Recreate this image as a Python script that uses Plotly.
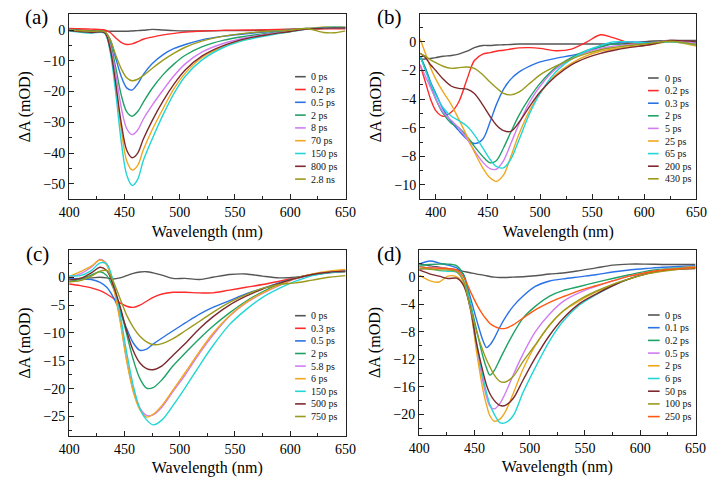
import plotly.graph_objects as go

# ---------------- Panel (a) ----------------
wl_a = [400, 420, 432, 437, 442, 447, 452, 457, 462, 467, 475, 485, 495, 505, 520, 540, 560, 580, 600, 615, 630, 640, 650]
labels_a = ["0 ps", "0.2 ps", "0.5 ps", "2 ps", "8 ps", "70 ps", "150 ps", "800 ps", "2.8 ns"]
a_0ps = [0.3, -0.2, -0.3, -0.4, -0.4, -0.4, -0.4, -0.3, -0.2, -0.1, 0.2, 0.0, -0.2, -0.3, -0.3, -0.2, -0.2, 0.0, 0.3, 0.5, 0.5, 0.6, 0.6]
a_02ps = [0.5, 0.3, 0.0, -0.8, -2.5, -4.0, -4.7, -4.5, -3.8, -3.0, -2.3, -1.6, -1.1, -0.7, -0.3, -0.1, 0.0, 0.1, 0.2, 0.3, 0.4, 0.4, 0.4]
a_05ps = [0.2, -0.5, -0.6, -3.0, -9.0, -15.0, -18.8, -19.5, -17.5, -14.5, -11.0, -8.0, -6.0, -4.7, -3.2, -2.0, -1.2, -0.6, 0.0, 0.5, 0.7, 0.8, 0.8]
a_2ps = [0.2, -0.5, -0.7, -4.0, -12.0, -21.0, -26.5, -28.0, -26.5, -23.5, -19.0, -14.5, -11.0, -8.2, -5.5, -3.3, -2.0, -1.0, -0.2, 0.4, 0.6, 0.8, 0.8]
a_8ps = [0.0, -0.7, -0.8, -5.0, -14.0, -25.0, -32.0, -34.0, -32.5, -29.0, -24.5, -19.5, -14.8, -11.0, -7.2, -4.3, -2.5, -1.3, -0.4, 0.3, 0.6, 0.8, 0.8]
a_70ps = [-0.2, -0.8, -0.9, -6.0, -18.0, -32.0, -42.5, -45.5, -44.0, -39.0, -32.5, -25.5, -19.0, -14.0, -9.0, -5.3, -3.0, -1.6, -0.5, 0.4, 1.0, 1.1, 0.9]
a_150ps = [-0.3, -1.0, -1.0, -7.0, -20.0, -36.0, -47.0, -50.5, -48.5, -42.5, -35.5, -27.5, -20.5, -15.0, -9.8, -5.6, -3.2, -1.8, -0.6, 0.3, 0.8, 1.0, 0.8]
a_800ps = [-0.2, -0.8, -0.9, -6.0, -17.0, -30.0, -39.0, -41.5, -40.0, -35.5, -29.5, -23.0, -17.5, -13.0, -8.5, -5.0, -2.8, -1.5, -0.5, 0.3, 0.6, 0.7, 0.7]
a_28ns = [0.0, -0.4, -0.5, -3.0, -8.0, -12.5, -15.5, -16.5, -16.0, -14.8, -12.5, -9.8, -7.5, -5.6, -3.6, -2.0, -1.0, -0.4, 0.0, 0.5, -0.8, -0.9, -0.3]
series_a = [a_0ps, a_02ps, a_05ps, a_2ps, a_8ps, a_70ps, a_150ps, a_800ps, a_28ns]

# ---------------- Panel (b) ----------------
wl_b = [385, 390, 395, 400, 407, 415, 422, 430, 437, 445, 452, 458, 465, 472, 480, 490, 500, 515, 530, 545, 558, 570, 585, 605, 625, 650]
labels_b = ["0 ps", "0.2 ps", "0.3 ps", "2 ps", "5 ps", "25 ps", "65 ps", "200 ps", "430 ps"]
b_0ps = [-1.2, -1.2, -1.15, -1.1, -1.0, -0.95, -0.85, -0.65, -0.4, -0.25, -0.25, -0.22, -0.2, -0.18, -0.15, -0.15, -0.15, -0.15, -0.15, -0.15, -0.15, -0.15, -0.1, 0.05, 0.1, 0.1]
b_02ps = [-1.6, -2.8, -4.0, -4.8, -5.2, -4.9, -4.2, -2.6, -1.3, -0.85, -0.75, -0.65, -0.58, -0.5, -0.42, -0.4, -0.45, -0.62, -0.5, 0.0, 0.5, 0.3, -0.05, -0.1, 0.0, -0.2]
b_03ps = [-1.0, -1.8, -2.8, -3.6, -4.7, -5.6, -6.2, -6.8, -7.1, -6.8, -5.6, -4.4, -3.3, -2.6, -2.1, -1.7, -1.4, -1.15, -0.95, -0.7, -0.35, -0.1, 0.0, -0.05, 0.05, -0.1]
b_2ps = [-1.0, -1.9, -3.0, -4.0, -5.0, -5.7, -6.0, -6.6, -7.3, -8.0, -8.45, -8.3, -7.4, -6.3, -5.1, -3.9, -2.9, -1.8, -1.1, -0.6, -0.35, -0.15, -0.2, -0.1, 0.05, -0.2]
b_5ps = [-1.6, -2.4, -3.2, -4.0, -4.9, -5.5, -6.0, -6.8, -7.6, -8.4, -8.85, -8.9, -8.3, -7.1, -5.7, -4.2, -3.1, -1.9, -1.2, -0.7, -0.45, -0.3, -0.2, -0.1, 0.1, -0.1]
b_25ps = [0.2, -0.8, -1.8, -2.6, -3.5, -4.4, -5.4, -6.6, -7.7, -8.8, -9.5, -9.75, -9.3, -8.0, -6.4, -4.8, -3.6, -2.3, -1.5, -0.95, -0.65, -0.5, -0.35, -0.2, 0.0, -0.3]
b_65ps = [-1.0, -2.0, -2.9, -3.7, -4.6, -5.2, -5.5, -5.9, -6.5, -7.4, -8.2, -8.7, -8.8, -8.2, -6.8, -5.0, -3.6, -2.1, -1.2, -0.6, -0.25, 0.0, 0.0, -0.1, 0.0, -0.2]
b_200ps = [-0.8, -1.1, -1.6, -2.0, -2.6, -3.1, -3.25, -3.3, -3.6, -4.4, -5.2, -5.8, -6.2, -6.25, -5.6, -4.5, -3.5, -2.4, -1.6, -1.1, -0.8, -0.6, -0.4, -0.2, 0.1, 0.0]
b_430ps = [-0.8, -1.0, -1.25, -1.45, -1.7, -1.85, -1.8, -1.75, -1.85, -2.3, -2.8, -3.2, -3.6, -3.7, -3.5, -2.9, -2.3, -1.7, -1.2, -0.8, -0.55, -0.4, -0.25, -0.1, 0.05, -0.2]
series_b = [b_0ps, b_02ps, b_03ps, b_2ps, b_5ps, b_25ps, b_65ps, b_200ps, b_430ps]

# ---------------- Panel (c) ----------------
wl_c = [400, 410, 420, 428, 434, 440, 446, 452, 458, 464, 470, 476, 484, 494, 505, 518, 530, 545, 560, 575, 590, 605, 620, 635, 650]
labels_c = ["0 ps", "0.3 ps", "0.5 ps", "2 ps", "5.8 ps", "6 ps", "150 ps", "500 ps", "750 ps"]
c_0ps = [-0.3, -0.2, -0.1, 0.0, -0.1, -0.3, -0.1, 0.3, 0.7, 0.95, 1.0, 0.8, 0.4, -0.2, -0.2, -0.4, 0.0, 0.5, 0.6, 0.2, -0.1, 0.0, 0.4, 0.8, 1.0]
c_03ps = [-1.2, -1.5, -1.9, -2.4, -3.0, -3.8, -4.6, -5.2, -5.4, -5.0, -4.3, -3.6, -3.0, -2.7, -2.7, -2.8, -2.8, -2.3, -1.8, -1.3, -0.7, -0.1, 0.5, 0.9, 1.2]
c_05ps = [-0.3, -0.3, -0.4, -0.9, -1.8, -3.6, -6.2, -9.2, -11.8, -13.1, -12.9, -12.0, -10.9, -9.6, -8.2, -6.6, -5.4, -4.2, -3.0, -2.0, -1.0, -0.2, 0.5, 0.9, 1.2]
c_2ps = [-0.8, -0.3, 0.4, 1.0, 0.3, -2.0, -5.5, -10.2, -14.8, -18.2, -19.9, -19.8, -18.4, -15.9, -13.6, -11.0, -8.8, -6.4, -4.3, -2.6, -1.2, -0.1, 0.5, 0.9, 1.1]
c_58ps = [0.0, 0.6, 1.8, 3.2, 2.4, -1.5, -7.5, -14.8, -20.3, -23.5, -24.8, -24.7, -23.3, -20.5, -17.5, -13.6, -10.4, -7.0, -4.6, -2.9, -1.5, -0.3, 0.5, 1.0, 1.2]
c_6ps = [0.1, 1.0, 2.0, 3.1, 2.2, -1.8, -7.8, -15.0, -20.6, -23.8, -25.1, -24.6, -23.0, -20.2, -17.1, -13.3, -10.1, -6.9, -4.5, -2.8, -1.4, -0.2, 0.6, 1.1, 1.4]
c_150ps = [0.3, 0.3, 1.2, 2.6, 2.4, -0.8, -6.5, -13.5, -19.5, -23.6, -25.6, -26.5, -25.6, -23.0, -19.8, -15.8, -12.3, -8.5, -5.8, -3.6, -2.0, -0.7, 0.3, 0.8, 1.1]
c_500ps = [-0.5, -0.2, 0.8, 1.8, 1.2, -1.5, -5.2, -9.6, -13.2, -15.4, -16.4, -16.6, -15.9, -14.0, -11.9, -9.2, -7.1, -5.0, -3.4, -2.1, -1.1, -0.2, 0.5, 0.9, 1.1]
c_750ps = [-0.8, -0.6, 0.2, 1.1, 1.2, -0.8, -3.8, -6.8, -9.0, -10.6, -11.6, -12.1, -11.9, -11.0, -9.6, -7.9, -6.3, -4.5, -3.1, -2.0, -1.3, -1.0, -0.5, 0.0, 0.3]
series_c = [c_0ps, c_03ps, c_05ps, c_2ps, c_58ps, c_6ps, c_150ps, c_500ps, c_750ps]

# ---------------- Panel (d) ----------------
wl_d = [400, 410, 418, 426, 434, 440, 446, 452, 458, 461, 464, 468, 473, 478, 485, 494, 505, 518, 530, 545, 560, 575, 590, 605, 620, 635, 650]
labels_d = ["0 ps", "0.1 ps", "0.2 ps", "0.5 ps", "2 ps", "6 ps", "50 ps", "100 ps", "250 ps"]
d_0ps = [1.9, 1.6, 1.4, 1.2, 1.0, 0.8, 0.6, 0.4, 0.25, 0.15, 0.05, -0.05, -0.1, -0.1, -0.05, 0.0, 0.15, 0.4, 0.55, 0.9, 1.3, 1.7, 1.85, 1.85, 1.8, 1.8, 1.8]
d_01ps = [1.85, 2.3, 2.0, 1.7, 1.3, 0.4, -2.8, -6.3, -9.4, -10.3, -9.9, -8.9, -7.3, -5.9, -4.3, -2.8, -1.4, -0.6, -0.3, 0.0, 0.3, 0.7, 1.0, 1.2, 1.4, 1.5, 1.6]
d_02ps = [1.7, 1.8, 1.85, 1.85, 1.6, 0.3, -3.6, -7.8, -11.8, -13.3, -14.3, -13.6, -12.0, -10.4, -8.3, -6.0, -4.3, -2.8, -2.0, -1.4, -0.8, -0.25, 0.3, 0.8, 1.1, 1.3, 1.4]
d_05ps = [1.0, 1.4, 1.3, 1.2, 0.8, -0.6, -4.5, -10.3, -15.5, -17.5, -18.8, -19.2, -18.4, -16.9, -14.3, -11.2, -8.0, -5.4, -3.6, -2.3, -1.4, -0.6, 0.1, 0.6, 1.0, 1.2, 1.3]
d_2ps = [0.25, -0.6, -0.75, 0.1, 0.0, -1.0, -4.2, -11.0, -16.7, -18.7, -20.2, -21.0, -20.7, -19.6, -17.0, -13.4, -10.0, -7.0, -5.0, -3.5, -2.2, -1.2, -0.3, 0.5, 1.0, 1.3, 1.5]
d_6ps = [1.55, 1.2, 0.9, 0.8, 0.7, -0.5, -3.6, -9.6, -14.8, -16.9, -18.6, -20.0, -21.2, -21.2, -20.2, -16.8, -13.2, -9.3, -6.5, -4.1, -2.6, -1.3, -0.3, 0.5, 1.0, 1.3, 1.4]
d_50ps = [1.0, 0.4, 0.1, -0.25, -0.2, -1.2, -4.3, -9.8, -14.0, -15.8, -17.0, -18.0, -18.7, -18.7, -17.7, -15.0, -11.8, -8.5, -6.1, -3.9, -2.5, -1.3, -0.3, 0.4, 0.9, 1.1, 1.2]
d_100ps = [1.2, 1.1, 1.0, 1.0, 0.7, -0.6, -4.4, -8.0, -10.9, -12.1, -13.1, -14.3, -15.2, -15.3, -14.5, -12.3, -9.9, -7.0, -5.0, -3.3, -2.1, -1.1, -0.3, 0.4, 0.8, 1.1, 1.3]
d_250ps = [1.45, 1.3, 1.25, 1.2, 1.0, 0.0, -2.0, -4.0, -5.6, -6.2, -6.8, -7.2, -7.5, -7.5, -7.0, -6.0, -4.8, -3.7, -2.9, -2.0, -1.3, -0.6, 0.1, 0.6, 1.0, 1.2, 1.4]
series_d = [d_0ps, d_01ps, d_02ps, d_05ps, d_2ps, d_6ps, d_50ps, d_100ps, d_250ps]

# ---------------- styling ----------------
GRAY, RED, BLUE, GREEN = "#555555", "#ff2a2a", "#2a72e6", "#1ea266"
VIOLET, ORANGE, CYAN, BROWN, OLIVE, ORED = "#d27cf2", "#f0a820", "#22d6d6", "#7d2a2e", "#9a9a1c", "#ff5a10"
colors_abc = [GRAY, RED, BLUE, GREEN, VIOLET, ORANGE, CYAN, BROWN, OLIVE]
colors_d = [GRAY, BLUE, GREEN, VIOLET, ORANGE, CYAN, BROWN, OLIVE, ORED]

W, H = 723, 487
FONT = "Liberation Serif"

# panel boxes in pixels: (left, right, top, bottom)
boxes = {
    1: (60, 345, 14, 199.3),
    2: (422, 707, 14, 199.3),
    3: (60, 345, 250, 436),
    4: (421, 706, 250, 435),
}

panels = [
    (1, wl_a, series_a, labels_a, colors_abc, [400, 650], [-55, 5.2], 10, 5),
    (2, wl_b, series_b, labels_b, colors_abc, [385, 650], [-11, 1.95], 2, 1),
    (3, wl_c, series_c, labels_c, colors_abc, [400, 650], [-28.5, 4.9], 5, 2.5),
    (4, wl_d, series_d, labels_d, colors_d, [400, 650], [-23, 3.9], 4, 2),
]

# legend layout (pixels): key x0, key x1, text x, first entry y, spacing
legend_px = {
    1: (293, 304, 307, 76.7, 12.8),
    2: (657, 668, 672, 78.0, 12.6),
    3: (293, 304, 307, 315.7, 12.6),
    4: (657, 669, 672.5, 315.0, 12.7),
}

fig = go.Figure()
layout = dict(
    width=W, height=H, margin=dict(l=0, r=0, t=0, b=0),
    paper_bgcolor="white", plot_bgcolor="white", showlegend=False,
    font=dict(family=FONT, color="black"),
)
shapes, annotations = [], []

for idx, wl, series, labels, cols, xr, yr, ydt, ymin in panels:
    sfx = "" if idx == 1 else str(idx)
    l, r, t, b = boxes[idx]
    for vals, lab, col in zip(series, labels, cols):
        fig.add_trace(go.Scatter(
            x=wl, y=vals, mode="lines", name=lab,
            line=dict(color=col, width=1.4, shape="spline", smoothing=0.9),
            xaxis="x" + sfx, yaxis="y" + sfx, hoverinfo="skip"))
    common = dict(showline=True, linecolor="#222222", linewidth=1, mirror=True,
                  ticks="inside", ticklen=5, tickwidth=1, tickcolor="#222222",
                  showgrid=False, zeroline=False,
                  tickfont=dict(family=FONT, size=14, color="black"))
    layout["xaxis" + sfx] = dict(
        common, domain=[l / W, r / W], anchor="y" + sfx, range=xr,
        tick0=400, dtick=50,
        minor=dict(ticks="inside", ticklen=3, tickcolor="#222222", dtick=25, tick0=400),
        title=dict(text="Wavelength (nm)", font=dict(family=FONT, size=16), standoff=6))
    layout["yaxis" + sfx] = dict(
        common, domain=[1 - b / H, 1 - t / H], anchor="x" + sfx, range=yr,
        tick0=0, dtick=ydt,
        minor=dict(ticks="inside", ticklen=3, tickcolor="#222222", dtick=ymin, tick0=0),
        title=dict(text="ΔA (mOD)", font=dict(family=FONT, size=16), standoff=8))
    # compact legend (text labels with short colour keys)
    kx0, kx1, tx, y0, dy = legend_px[idx]
    for i, (lab, col) in enumerate(zip(labels, cols)):
        yy = 1 - (y0 + i * dy) / H
        shapes.append(dict(type="line", xref="paper", yref="paper",
                           x0=kx0 / W, x1=kx1 / W, y0=yy, y1=yy,
                           line=dict(color=col, width=1.6)))
        annotations.append(dict(xref="paper", yref="paper", x=tx / W, y=yy,
                                xanchor="left", yanchor="middle", showarrow=False,
                                text=lab, font=dict(family=FONT, size=10, color="#111111")))

# panel labels
for txt, px, py in [("(a)", 26, 17), ("(b)", 390, 17), ("(c)", 27, 254), ("(d)", 390, 254)]:
    annotations.append(dict(xref="paper", yref="paper", x=px / W, y=1 - py / H,
                            xanchor="center", yanchor="middle", showarrow=False,
                            text=txt, font=dict(family=FONT, size=21, color="black")))

layout["shapes"] = shapes
layout["annotations"] = annotations
fig.update_layout(**layout)
fig.write_html("out.html")
